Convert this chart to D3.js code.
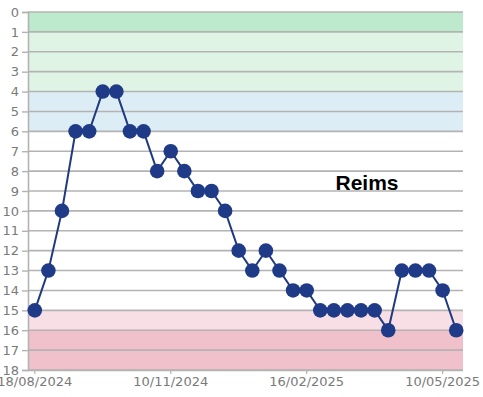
<!DOCTYPE html>
<html>
<head>
<meta charset="utf-8">
<script src="https://cdn.jsdelivr.net/npm/d3@7"></script>
<style>
html,body{margin:0;padding:0;background:#fff;}
svg{display:block;}
</style>
</head>
<body>
<svg id="chart" width="483" height="397"></svg>
<script>
// Data
const matchdays = d3.range(1, 33);
const positions = [15,13,10,6,6,4,4,6,6,8,7,8,9,9,10,12,13,12,13,14,14,15,15,15,15,15,16,13,13,13,14,16];
const tickIndex = [1, 11, 21, 31];
const tickLabels = ["18/08/2024", "10/11/2024", "16/02/2025", "10/05/2025"];
const yTicks = d3.range(0, 19);
const bandFrom = [0, 1, 4, 15, 16];
const bandTo = [1, 4, 6, 16, 18];
const bandColor = ["#bde9cc", "#e0f4e5", "#dcedf5", "#f7dfe5", "#f0c0cb"];
const teamName = "Reims";

const svg = d3.select("#chart");
const m = {left: 28, right: 20, top: 12, bottom: 27};
const W = 483, H = 397;

const x = d3.scaleBand().domain(matchdays).range([m.left, W - m.right]).padding(0);
const y = d3.scaleLinear().domain([0, 18]).range([m.top, H - m.bottom]);
const cx = d => x(d) + x.bandwidth() / 2;

// bands
svg.append("g").selectAll("rect").data(bandFrom).join("rect")
  .attr("x", m.left).attr("width", W - m.right - m.left)
  .attr("y", (d) => y(d))
  .attr("height", (d, i) => y(bandTo[i]) - y(d))
  .attr("fill", (d, i) => bandColor[i]);

// gridlines
svg.append("g").selectAll("line").data(yTicks).join("line")
  .attr("x1", m.left).attr("x2", W - m.right)
  .attr("y1", d => y(d)).attr("y2", d => y(d))
  .attr("stroke", "#b3b3b3").attr("stroke-width", 1.6);

// y axis
const yAxis = svg.append("g").attr("transform", `translate(${m.left},0)`)
  .call(d3.axisLeft(y).tickValues(yTicks).tickSize(6).tickPadding(3).tickFormat(d3.format("d")));
yAxis.select(".domain").attr("stroke", "#b3b3b3").attr("stroke-width", 1.6);
yAxis.selectAll(".tick line").attr("stroke", "#b3b3b3").attr("stroke-width", 1.4);
yAxis.selectAll("text").attr("fill", "#7a7a7a").style("font-family", "DejaVu Sans, Verdana, sans-serif").style("font-size", "13px");

// x axis
const xAxis = svg.append("g").attr("transform", `translate(0,${H - m.bottom})`)
  .call(d3.axisBottom(x).tickValues(tickIndex).tickSize(4).tickPadding(3)
    .tickFormat((d) => tickLabels[tickIndex.indexOf(d)]));
xAxis.select(".domain").attr("stroke", "#b3b3b3").attr("stroke-width", 1.6)
  .attr("d", `M${m.left},0.5H${W - m.right}`);
xAxis.selectAll(".tick line").attr("stroke", "#b3b3b3").attr("stroke-width", 1.2);
xAxis.selectAll("text").attr("fill", "#7a7a7a").style("font-family", "DejaVu Sans, Verdana, sans-serif").style("font-size", "13px");

// line
const line = d3.line().x((d, i) => cx(matchdays[i])).y(d => y(d));
svg.append("path").datum(positions).attr("d", line)
  .attr("fill", "none").attr("stroke", "#1f3a7e").attr("stroke-width", 2);

// markers
svg.append("g").selectAll("circle").data(positions).join("circle")
  .attr("cx", (d, i) => cx(matchdays[i])).attr("cy", d => y(d))
  .attr("r", 7.3).attr("fill", "#1f3a87");

// team label
svg.append("text").attr("x", 367).attr("y", 190).attr("text-anchor", "middle")
  .style("font-family", "Liberation Sans, Arial, sans-serif").style("font-weight", "bold")
  .style("font-size", "21px").attr("fill", "#000").text(teamName);
</script>
</body>
</html>
